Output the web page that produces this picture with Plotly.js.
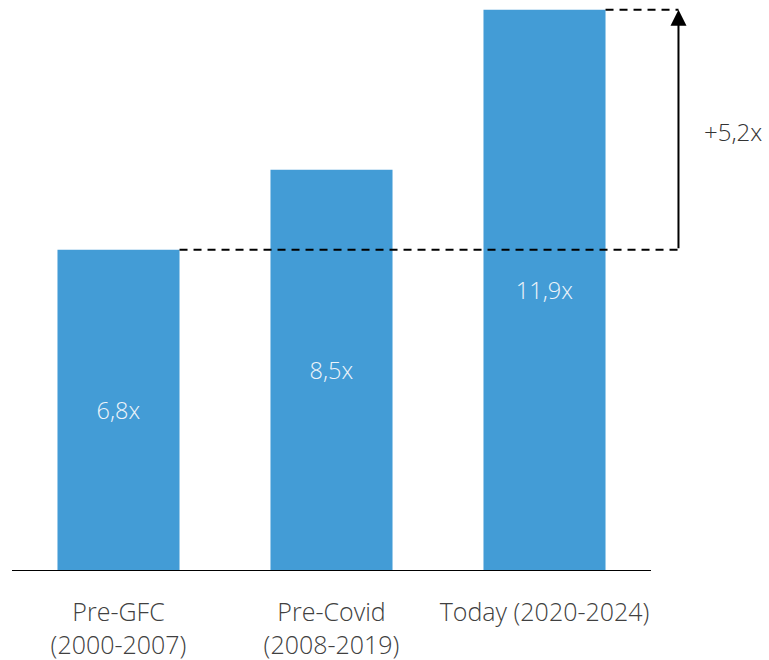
<!DOCTYPE html>
<html>
<head>
<meta charset="utf-8">
<script src="https://cdn.plot.ly/plotly-3.0.1.min.js"></script>
<style>
  html, body { margin: 0; padding: 0; background: #fff; }
  #chart { width: 769px; height: 660px; }
</style>
</head>
<body>
<div id="chart"></div>
<script>
// Periods and their average multiple
const categories = ['Pre-GFC<br>(2000-2007)', 'Pre-Covid<br>(2008-2019)', 'Today (2020-2024)'];
const multiples = [6.8, 8.5, 11.9];
const upliftLabel = '+5,2x';

const barColor = '#439CD6';
const textFont = "'Open Sans', 'Noto Sans', sans-serif";
const yMax = 12;
const bargap = 0.427;

const margin = { l: 12, r: 118, t: 5, b: 90 };
const W = 769, H = 660;
const plotH = H - margin.t - margin.b;

// helpers: category index / value -> paper fraction
const nCat = categories.length;
const xPaper = i => (i + 0.5) / nCat;
const yPaper = v => v / yMax;

const halfBar = (1 - bargap) / 2;
const arrowIdx = 2.629;            // just right of the last bar
const arrowX = xPaper(arrowIdx);

const baseVal = multiples[0];
const topVal = multiples[multiples.length - 1];

const fmt = v => v.toFixed(1).replace('.', ',') + 'x';

const trace = {
  type: 'bar',
  x: categories,
  y: multiples,
  marker: { color: barColor, line: { width: 0 } },
  text: multiples.map(fmt),
  textposition: 'inside',
  insidetextanchor: 'middle',
  textangle: 0,
  textfont: { family: textFont, size: 23.5, color: '#EEF4FA', weight: 300 },
  hoverinfo: 'none',
  cliponaxis: false
};

const dashStyle = { color: '#000', width: 2, dash: '8px,6px' };

const layout = {
  width: W,
  height: H,
  margin: margin,
  paper_bgcolor: '#fff',
  plot_bgcolor: '#fff',
  showlegend: false,
  bargap: bargap,
  font: { family: textFont, color: '#404040' },
  xaxis: {
    type: 'category',
    range: [-0.5, nCat - 0.5],
    showline: true,
    linecolor: '#000',
    linewidth: 1,
    ticks: '',
    ticklabelstandoff: 20,
    tickfont: { family: textFont, size: 25, color: '#404040', weight: 300 },
    showgrid: false,
    zeroline: false,
    fixedrange: true
  },
  yaxis: {
    range: [0, yMax],
    visible: false,
    showgrid: false,
    zeroline: false,
    fixedrange: true
  },
  shapes: [
    // baseline level carried across from the first bar
    {
      type: 'line', xref: 'paper', yref: 'paper', layer: 'above',
      x0: xPaper(0 + halfBar), x1: arrowX,
      y0: yPaper(baseVal), y1: yPaper(baseVal),
      line: dashStyle
    },
    // current level
    {
      type: 'line', xref: 'paper', yref: 'paper', layer: 'above',
      x0: xPaper(nCat - 1 + halfBar), x1: arrowX,
      y0: yPaper(topVal), y1: yPaper(topVal),
      line: dashStyle
    }
  ],
  annotations: [
    {
      xref: 'paper', yref: 'paper',
      x: arrowX, y: yPaper(topVal),
      ax: 0, ay: (topVal - baseVal) * plotH / yMax,
      axref: 'pixel', ayref: 'pixel',
      text: '',
      showarrow: true,
      arrowhead: 2,
      arrowsize: 1.6,
      arrowwidth: 2,
      arrowcolor: '#000',
      standoff: 0,
      startstandoff: 0
    },
    {
      xref: 'paper', yref: 'paper',
      x: arrowX, y: yPaper((topVal + baseVal) / 2),
      xanchor: 'left', yanchor: 'middle',
      xshift: 24,
      yshift: -2,
      text: upliftLabel,
      showarrow: false,
      font: { family: textFont, size: 24, color: '#333333', weight: 300 }
    }
  ]
};

Plotly.newPlot('chart', [trace], layout, { displayModeBar: false, staticPlot: true });
</script>
</body>
</html>
